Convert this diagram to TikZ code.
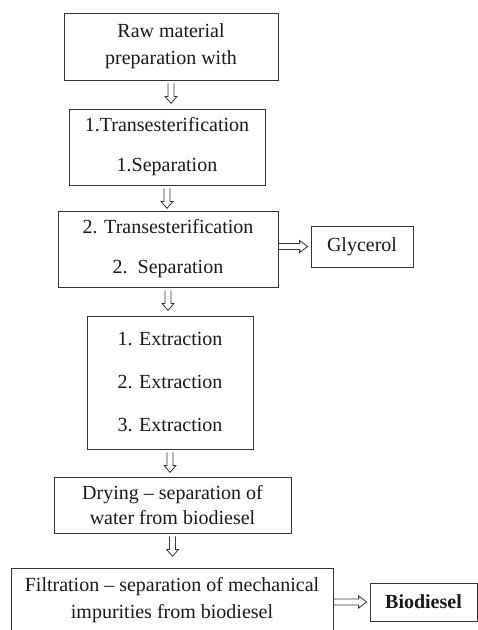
\documentclass[tikz,border=0pt]{standalone}
\usepackage{fontspec}
\setmainfont{Liberation Serif}
\usetikzlibrary{calc}

\tikzset{box/.style={draw=black!80, line width=0.8pt, inner sep=0pt, align=center, text=black!90, font=\fontsize{20}{27}\selectfont},
  linegap/.style={font=\fontsize{20}{#1}\selectfont},
  flow/.style={draw=black!80, line width=0.8pt, line join=miter},
  down flow/.style={flow, to path={let \p1=(\tikztostart), \p2=(\tikztotarget) in
    ({\x1-3pt},{\y1-3pt}) -- ({\x1-3pt},{\y1-16pt}) -- ({\x1-6pt},{\y1-16pt}) -- ({\x1},{\y1-23pt})
    -- ({\x1+6pt},{\y1-16pt}) -- ({\x1+3pt},{\y1-16pt}) -- ({\x1+3pt},{\y1-3pt})}},
  right flow/.style={flow, to path={let \p1=(\tikztostart), \p2=(\tikztotarget) in
    ({\x1},{\y1+3pt}) -- ({\x2-11pt},{\y1+3pt}) -- ({\x2-11pt},{\y1+6pt}) -- ({\x2-3pt},{\y1})
    -- ({\x2-11pt},{\y1-6pt}) -- ({\x2-11pt},{\y1-3pt}) -- ({\x1},{\y1-3pt})}}}

\begin{document}
\begin{tikzpicture}[x=1pt, y=-1pt]
  % page frame, the last box runs off the bottom
  \useasboundingbox (0,0) rectangle (478,630);
  \clip (0,0) rectangle (478,630);
  % process steps
  \node[box, minimum width=214pt, minimum height=67pt] (b1) at (171,46.5) {Raw material\\preparation with};
  \node[box, linegap=40, minimum width=196pt, minimum height=76pt] (b2) at (167,147) {1.Transesterification\\1.Separation};
  \node[box, linegap=40, minimum width=220pt, minimum height=76pt] (b3) at (168,249) {2. Transesterification\\2.\ \ Separation};
  \node[box, minimum width=102pt, minimum height=41pt] (gly) at (362,246.5) {Glycerol};
  \node[box, linegap=43, minimum width=166pt, minimum height=133pt] (b4) at (170,382.5) {1. Extraction\\2. Extraction\\3. Extraction};
  \node[box, linegap=25, minimum width=237pt, minimum height=56pt] (b5) at (172.5,505) {Drying -- separation of\\water from biodiesel};
  \node[box, minimum width=322pt, minimum height=65pt] (b6) at (172,600.5) {Filtration -- separation of mechanical\\impurities from biodiesel};
  \node[box, font=\fontsize{20}{24}\selectfont\bfseries, minimum width=107pt, minimum height=38pt] (bio) at (423.5,602) {Biodiesel};
  % flow between the steps
  \draw[down flow] (b1.south) to (b1.south |- b2.north);
  \draw[down flow] (b2.south) to (b2.south |- b3.north);
  \draw[down flow] (b3.south) to (b3.south |- b4.north);
  \draw[down flow] (b4.south) to (b4.south |- b5.north);
  \draw[down flow] (b5.south) to (b5.south |- b6.north);
  \draw[right flow] (b3.east |- gly) to (gly.west);
  \draw[right flow] (b6.east |- bio) to (bio.west);
\end{tikzpicture}
\end{document}
